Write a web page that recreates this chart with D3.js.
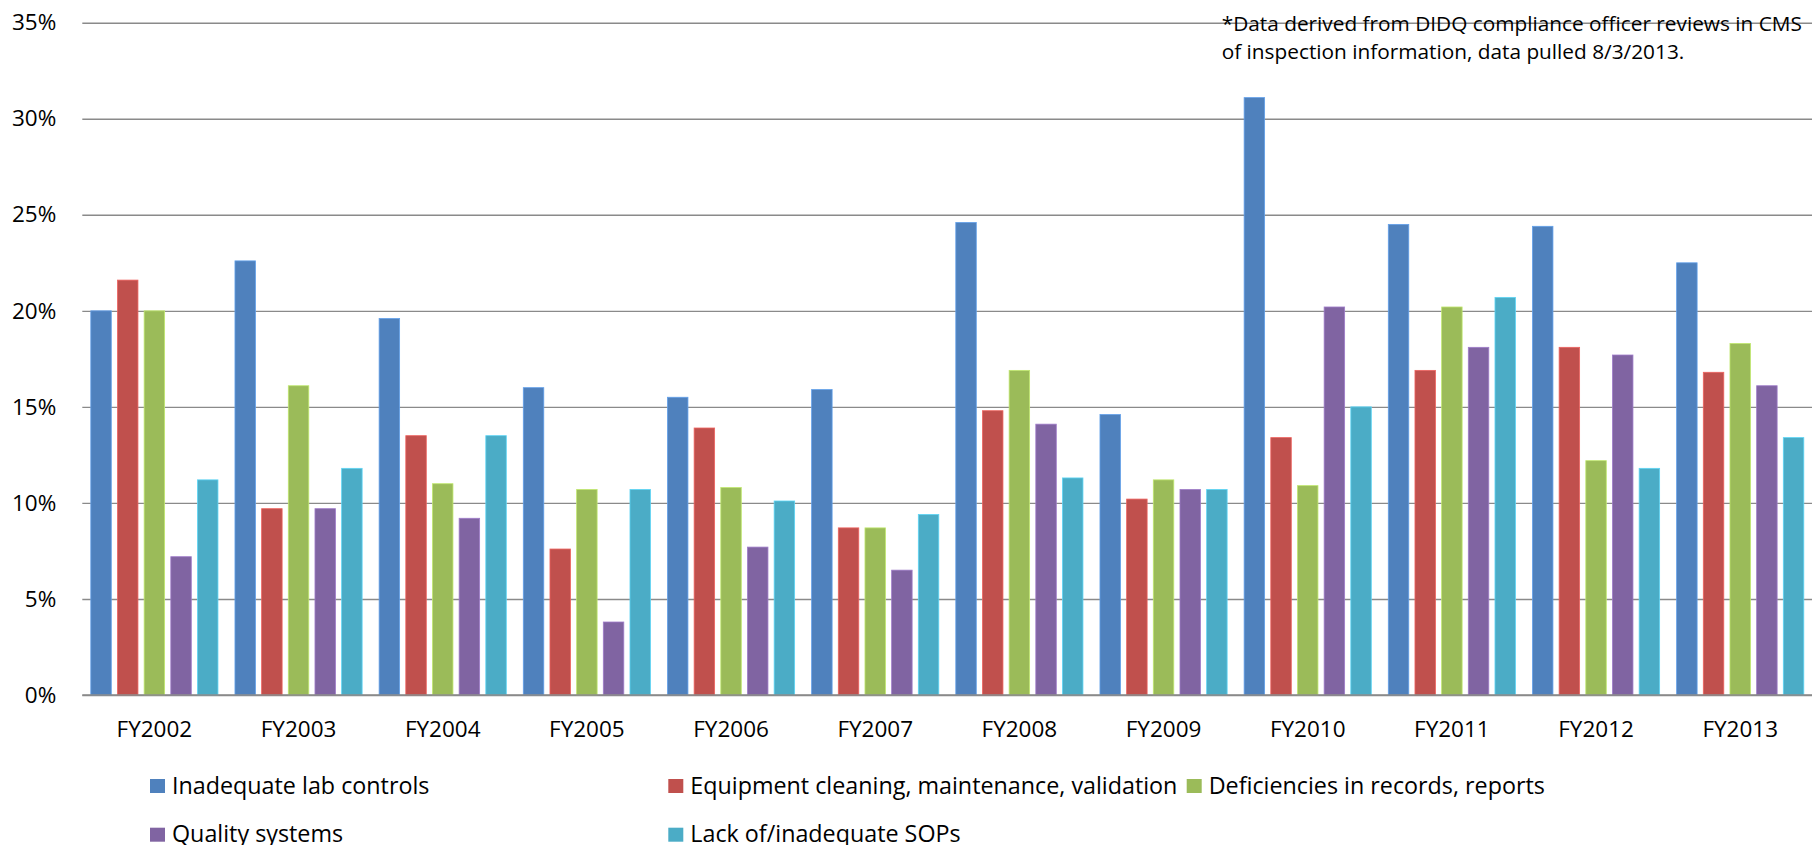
<!DOCTYPE html>
<html>
<head>
<meta charset="utf-8">
<script src="https://cdn.jsdelivr.net/npm/d3@7"></script>
<style>
  html, body { margin: 0; padding: 0; background: #fff; }
  svg { display: block; }
  svg text { font-family: "Open Sans", Lato, sans-serif; fill: #000; }
</style>
</head>
<body>
<svg id="chart" width="1812" height="845"></svg>
<script>
// Fiscal years on the x axis
const categories = ["FY2002", "FY2003", "FY2004", "FY2005", "FY2006", "FY2007",
                    "FY2008", "FY2009", "FY2010", "FY2011", "FY2012", "FY2013"];

// Citation categories (series) and their colours
const seriesNames = [
  "Inadequate lab controls",
  "Equipment cleaning, maintenance, validation",
  "Deficiencies in records, reports",
  "Quality systems",
  "Lack of/inadequate SOPs"
];
const seriesColors = ["#4F81BD", "#C0504D", "#9BBB59", "#8064A2", "#4BACC6"];

// Share of citations per year (percent)
const labControls    = [20.0, 22.6, 19.6, 16.0, 15.5, 15.9, 24.6, 14.6, 31.1, 24.5, 24.4, 22.5];
const equipment      = [21.6,  9.7, 13.5,  7.6, 13.9,  8.7, 14.8, 10.2, 13.4, 16.9, 18.1, 16.8];
const records        = [20.0, 16.1, 11.0, 10.7, 10.8,  8.7, 16.9, 11.2, 10.9, 20.2, 12.2, 18.3];
const qualitySystems = [ 7.2,  9.7,  9.2,  3.8,  7.7,  6.5, 14.1, 10.7, 20.2, 18.1, 17.7, 16.1];
const sops           = [11.2, 11.8, 13.5, 10.7, 10.1,  9.4, 11.3, 10.7, 15.0, 20.7, 11.8, 13.4];

const yTicks = [0, 5, 10, 15, 20, 25, 30, 35];

const noteLines = [
  "*Data derived from DIDQ compliance officer reviews in CMS",
  "of inspection information, data pulled 8/3/2013."
];

const seriesValues = [labControls, equipment, records, qualitySystems, sops];

const svg = d3.select("#chart");
const plot = { left: 82.3, right: 1812.3, top: 22.7, bottom: 695 };
const axisFont = 22.5;
const noteFont = 20.8;
const legendFont = 23.3;
const gridColor = "#8a8a8a";

const x0 = d3.scaleBand()
  .domain(categories)
  .range([plot.left, plot.right])
  .paddingInner(0).paddingOuter(0);

const groupPad = 8.5;
const x1 = d3.scaleBand()
  .domain(d3.range(seriesNames.length))
  .range([groupPad, x0.bandwidth() - groupPad])
  .paddingInner(0.232).paddingOuter(0);

const y = d3.scaleLinear().domain([0, 35]).range([plot.bottom, plot.top]);

// Horizontal gridlines and y-axis labels
const yAxis = d3.axisLeft(y)
  .tickValues(yTicks)
  .tickSize(-(plot.right - plot.left))
  .tickPadding(26)
  .tickFormat(d => d + "%");

const yG = svg.append("g")
  .attr("transform", `translate(${plot.left},0)`)
  .call(yAxis)
  .attr("font-family", null)
  .attr("font-size", null);
yG.select(".domain").remove();
yG.selectAll(".tick line").attr("stroke", gridColor).attr("stroke-width", 1.4);
yG.selectAll(".tick text").style("font-size", axisFont + "px");

// Bars
const groups = svg.append("g").selectAll("g")
  .data(categories)
  .join("g")
  .attr("transform", d => `translate(${x0(d)},0)`);

groups.selectAll("rect")
  .data((d, i) => seriesValues.map((vals, s) => ({ s, v: vals[i] })))
  .join("rect")
  .attr("x", d => x1(d.s))
  .attr("width", x1.bandwidth())
  .attr("y", d => y(d.v))
  .attr("height", d => y(0) - y(d.v))
  .attr("fill", d => seriesColors[d.s])
  .attr("stroke", d => d3.color(seriesColors[d.s]).brighter(0.6))
  .attr("stroke-width", 0.8);

// Baseline drawn over bar bottoms
svg.append("line")
  .attr("x1", plot.left).attr("x2", plot.right)
  .attr("y1", y(0)).attr("y2", y(0))
  .attr("stroke", gridColor).attr("stroke-width", 1.4);

// Category labels
const xAxis = d3.axisBottom(x0).tickSize(0).tickPadding(26.5);
const xG = svg.append("g")
  .attr("transform", `translate(0,${plot.bottom})`)
  .call(xAxis)
  .attr("font-family", null)
  .attr("font-size", null);
xG.select(".domain").remove();
xG.selectAll(".tick text").style("font-size", axisFont + "px");

// Source note
svg.append("text")
  .attr("x", 1221.7)
  .attr("y", 30.7)
  .style("font-size", noteFont + "px")
  .selectAll("tspan")
  .data(noteLines)
  .join("tspan")
  .attr("x", 1221.7)
  .attr("dy", (d, i) => i === 0 ? 0 : 28.6)
  .text(d => d);

// Legend
const legendPos = [
  { x: 150, y: 779 },
  { x: 668.3, y: 779 },
  { x: 1186.7, y: 779 },
  { x: 150, y: 827.7 },
  { x: 668.3, y: 827.7 }
];
const legend = svg.append("g").selectAll("g")
  .data(seriesNames)
  .join("g")
  .attr("transform", (d, i) => `translate(${legendPos[i].x},${legendPos[i].y})`);
legend.append("rect")
  .attr("width", 15).attr("height", 14)
  .attr("fill", (d, i) => seriesColors[i]);
legend.append("text")
  .attr("x", 22)
  .attr("y", 14.5)
  .style("font-size", legendFont + "px")
  .text(d => d);
</script>
</body>
</html>
